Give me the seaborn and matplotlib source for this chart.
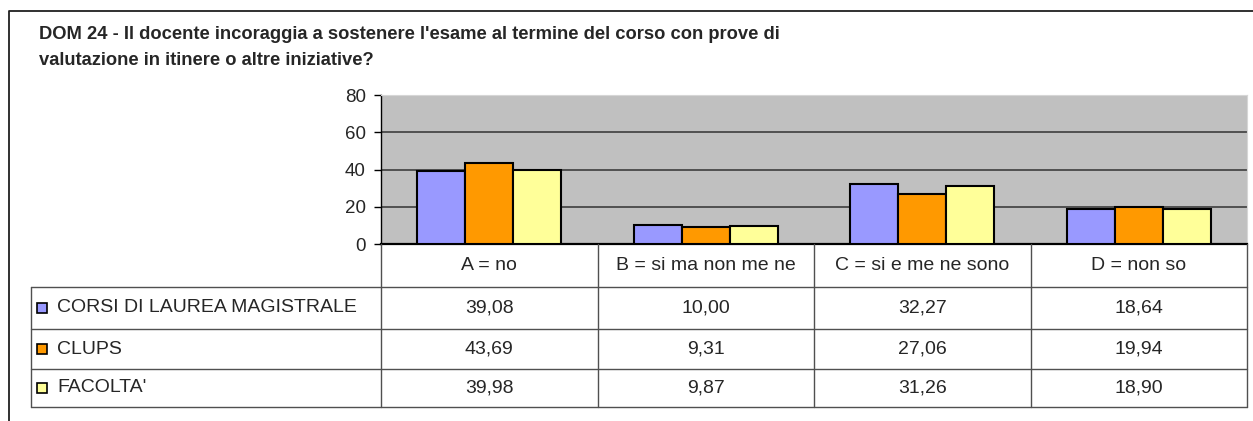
import pandas as pd
import matplotlib
matplotlib.use("Agg")
import matplotlib.pyplot as plt
import seaborn as sns

# dati
categorie = ["A = no", "B = si ma non me ne", "C = si e me ne sono", "D = non so"]
serie = ["CORSI DI LAUREA MAGISTRALE", "CLUPS", "FACOLTA'"]
corsi_lm = [39.08, 10.00, 32.27, 18.64]
clups = [43.69, 9.31, 27.06, 19.94]
facolta = [39.98, 9.87, 31.26, 18.90]
colori = ["#9999FF", "#FF9900", "#FFFF99"]
yticks = [0, 20, 40, 60, 80]
titolo_1 = "DOM 24 - Il docente incoraggia a sostenere l'esame al termine del corso con prove di"
titolo_2 = "valutazione in itinere o altre iniziative?"

valori = [corsi_lm, clups, facolta]
df = pd.DataFrame({
    "categoria": categorie * len(serie),
    "serie": [s for s in serie for _ in categorie],
    "valore": corsi_lm + clups + facolta,
})

sns.set_style("white")
plt.rcParams["font.family"] = ["Liberation Sans", "DejaVu Sans"]

W, H = 1253, 421
fig = plt.figure(figsize=(W / 100, H / 100), dpi=100)

# area del grafico in pixel
x0, x1, ytop, ybot = 381, 1247, 95, 244
ax = fig.add_axes([x0 / W, 1 - ybot / H, (x1 - x0) / W, (ybot - ytop) / H])
ax.set_facecolor("#C0C0C0")
sns.barplot(data=df, x="categoria", y="valore", hue="serie", palette=colori,
            saturation=1, width=0.665, edgecolor="black", linewidth=1.5, ax=ax,
            legend=False, zorder=3)
ax.set_ylim(0, 80)
ax.set_xlim(-0.5, len(categorie) - 0.5)
ax.set_yticks(yticks)
ax.set_yticklabels([str(t) for t in yticks], fontsize=13.5)
ax.yaxis.grid(True, color="#505050", linewidth=1.4, zorder=0)
ax.set_axisbelow(True)
ax.set_xticks([])
ax.set_xlabel("")
ax.set_ylabel("")
ax.tick_params(axis="y", which="both", left=True, length=5, width=1, color="black", pad=6)
for s in ["top", "right"]:
    ax.spines[s].set_color("#D6D6D6")
ax.spines["left"].set_color("black")
ax.spines["bottom"].set_color("black")
ax.spines["bottom"].set_linewidth(1.6)
ax.spines["left"].set_linewidth(1.0)

# sovrapposizione in pixel per tabella, cornice e titolo
ov = fig.add_axes([0, 0, 1, 1], facecolor="none")
ov.set_xlim(0, W)
ov.set_ylim(H, 0)
ov.axis("off")

# cornice esterna
ov.plot([9, 9, W], [H, 11, 11], color="#202020", linewidth=1.3)

ov.text(39, 39, titolo_1, fontsize=13.2, fontweight="bold", va="baseline", ha="left")
ov.text(39, 65, titolo_2, fontsize=13.2, fontweight="bold", va="baseline", ha="left")

# bordi delle colonne della tabella in pixel (dal grafico)
def px(xdata):
    return ax.transData.transform((xdata, 0))[0]

bordi = [px(i - 0.5) for i in range(len(categorie) + 1)]
centri = [px(i) for i in range(len(categorie))]
righe = [287, 329, 369, 407]
col_t = "#505050"
lx = 31

for b in bordi:
    ov.plot([b, b], [ybot, righe[-1]], color=col_t, linewidth=1)
ov.plot([lx, lx], [righe[0], righe[-1]], color=col_t, linewidth=1)
for r in righe:
    ov.plot([lx, bordi[-1]], [r, r], color=col_t, linewidth=1)

for c, cat in zip(centri, categorie):
    ov.text(c, (ybot + righe[0]) / 2, cat, fontsize=14, ha="center", va="center")

for i, (nome, col, vals) in enumerate(zip(serie, colori, valori)):
    yc = (righe[i] + righe[i + 1]) / 2
    ov.add_patch(plt.Rectangle((37, yc - 5), 10, 10, facecolor=col,
                               edgecolor="black", linewidth=1.2))
    ov.text(57, yc, nome, fontsize=14, ha="left", va="center")
    for c, v in zip(centri, vals):
        ov.text(c, yc, f"{v:.2f}".replace(".", ","), fontsize=14,
                ha="center", va="center")

fig.savefig("out.png", dpi=100)
